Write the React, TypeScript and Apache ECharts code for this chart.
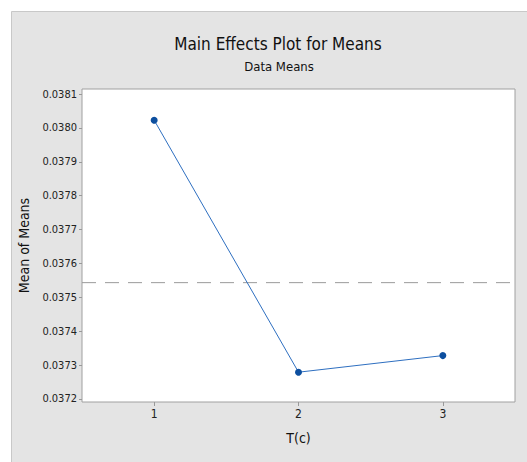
import React, { useEffect, useRef } from "react";
import * as echarts from "echarts";

const levels = [1, 2, 3];
const means = [0.038023, 0.037279, 0.037328];
const yTicks = [0.0372, 0.0373, 0.0374, 0.0375, 0.0376, 0.0377, 0.0378, 0.0379, 0.038, 0.0381];
const xTicks = [1, 2, 3];
const xRange = [0.5, 3.5];
const grandMean = means.reduce((a, b) => a + b, 0) / means.length;

const FONT = "'DejaVu Sans Condensed', Arial, sans-serif";

export default function App() {
  const ref = useRef<HTMLDivElement>(null);
  useEffect(() => {
    if (!ref.current) return;
    const chart = echarts.init(ref.current, undefined, { renderer: "svg" });
    chart.setOption({
      animation: false,
      backgroundColor: "#ffffff",
      graphic: [
        {
          type: "rect",
          z: -10,
          shape: { x: 11.5, y: 11.5, width: 530, height: 460 },
          style: { fill: "#e4e4e4", stroke: "#c8c8c8", lineWidth: 1 },
          silent: true,
        },
      ],
      title: [
        {
          text: "Main Effects Plot for Means",
          left: 273,
          textAlign: "center",
          top: 30,
          textStyle: { fontFamily: FONT, fontSize: 17, fontWeight: "normal", color: "#111" },
        },
        {
          text: "Data Means",
          left: 274,
          textAlign: "center",
          top: 55,
          textStyle: { fontFamily: FONT, fontSize: 13, fontWeight: "normal", color: "#111" },
        },
      ],
      grid: {
        left: 82,
        top: 89,
        right: 12,
        bottom: 60,
        show: true,
        backgroundColor: "#ffffff",
        borderColor: "#a0a0a0",
        borderWidth: 1,
      },
      xAxis: {
        type: "value",
        min: xRange[0],
        max: xRange[1],
        name: "T(c)",
        nameLocation: "middle",
        nameGap: 29,
        nameTextStyle: { fontFamily: FONT, fontSize: 14, color: "#111" },
        axisLine: { show: false },
        splitLine: { show: false },
        axisTick: { show: true, length: 4, lineStyle: { color: "#999" }, customValues: xTicks },
        axisLabel: {
          fontFamily: FONT,
          fontSize: 12,
          color: "#222",
          margin: 6,
          customValues: xTicks,
          formatter: (v: number) => String(v),
        },
      },
      yAxis: {
        type: "value",
        min: 0.037191,
        max: 0.038115,
        name: "Mean of Means",
        nameLocation: "middle",
        nameGap: 43,
        nameTextStyle: { fontFamily: FONT, fontSize: 14, color: "#111" },
        axisLine: { show: false },
        splitLine: { show: false },
        axisTick: { show: true, length: 3, lineStyle: { color: "#999" }, customValues: yTicks },
        axisLabel: {
          fontFamily: FONT,
          fontSize: 11,
          color: "#222",
          margin: 5,
          customValues: yTicks,
          formatter: (v: number) => v.toFixed(4),
        },
      },
      series: [
        {
          type: "line",
          data: xRange.map((x) => [x, grandMean]),
          symbol: "none",
          silent: true,
          z: 1,
          lineStyle: { color: "#9a9a9a", type: [14, 9], width: 1 },
        },
        {
          type: "line",
          data: levels.map((l, i) => [l, means[i]]),
          symbol: "circle",
          symbolSize: 7,
          z: 3,
          itemStyle: { color: "#0d4f9f" },
          lineStyle: { color: "#2e6fc0", width: 1 },
        },
      ],
    });
    return () => chart.dispose();
  }, []);
  return (
    <div
      ref={ref}
      style={{ position: "fixed", left: 0, top: 0, width: 527, height: 462 }}
    />
  );
}
